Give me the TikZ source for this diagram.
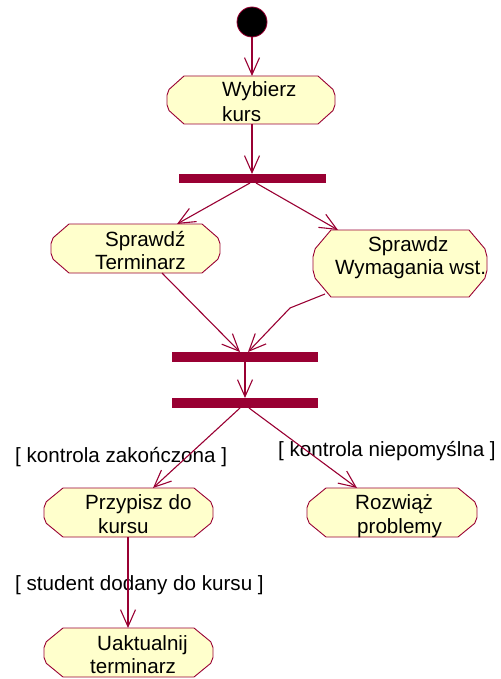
\documentclass[tikz,border=0pt]{standalone}
\usepackage{fontspec}
\setmainfont{Liberation Sans}
\usetikzlibrary{arrows.meta,calc,backgrounds}
\definecolor{umlred}{HTML}{990033}
\definecolor{umlfill}{HTML}{FFFFCC}
\newcommand\actframe[2]{%
  \filldraw[actline]
    ($(#1.north west)+(#2,0)$) -- ($(#1.north east)+(-#2,0)$)
    -- ($(#1.north east)!0.28!(#1.south east)+(-0.12*#2,0)$)
    -- ($(#1.north east)!0.4!(#1.south east)$)
    -- ($(#1.north east)!0.6!(#1.south east)$)
    -- ($(#1.north east)!0.72!(#1.south east)+(-0.12*#2,0)$)
    -- ($(#1.south east)+(-#2,0)$) -- ($(#1.south west)+(#2,0)$)
    -- ($(#1.north west)!0.72!(#1.south west)+(0.12*#2,0)$)
    -- ($(#1.north west)!0.6!(#1.south west)$)
    -- ($(#1.north west)!0.4!(#1.south west)$)
    -- ($(#1.north west)!0.28!(#1.south west)+(0.12*#2,0)$)
    -- cycle;}
\begin{document}
\begin{tikzpicture}[x=1pt,y=-1pt,
  actline/.style={draw=umlred,fill=umlfill,line width=0.9pt},
  box/.style={inner sep=0pt,outer sep=0pt},
  bar/.style={fill=umlred,inner sep=0pt,outer sep=0pt},
  txt/.style={inner sep=0pt,anchor=base west,font=\fontsize{20.6}{24}\selectfont},
  flow/.style={draw=umlred,line width=1.1pt,-{Straight Barb[length=17pt,width=15pt,line width=1.1pt]}},
  plain/.style={draw=umlred,line width=1.1pt}]
\useasboundingbox (0,0) rectangle (500,679);
% initial state
\node[circle,fill=black,draw=umlred,line width=0.8pt,minimum size=30pt,inner sep=0pt] (init) at (252,22) {};
% activity boxes (invisible frames, outlines drawn on background layer)
\node[box,minimum width=168pt,minimum height=48pt] (wyb) at (251,100) {};
\node[box,minimum width=169pt,minimum height=49pt] (spt) at (135.5,248.5) {};
\node[box,minimum width=174pt,minimum height=67pt] (swy) at (400,263.5) {};
\node[box,minimum width=169pt,minimum height=49pt] (prz) at (128.5,512.5) {};
\node[box,minimum width=170pt,minimum height=49pt] (roz) at (392,512.5) {};
\node[box,minimum width=169pt,minimum height=49pt] (uak) at (128.5,652.5) {};
\begin{pgfonlayer}{background}
\actframe{wyb}{17}
\actframe{spt}{18}
\actframe{swy}{18}
\actframe{prz}{19}
\actframe{roz}{19}
\actframe{uak}{19}
\end{pgfonlayer}
% texts
\node[txt] (wyb1) at (222,97) {Wybierz};
\node[txt] (wyb2) at (222,122) {kurs};
\node[txt] (spt1) at (105,246) {Sprawdź};
\node[txt] (spt2) at (95,269) {Terminarz};
\node[txt] (swy1) at (368,251) {Sprawdz};
\node[txt] (swy2) at (335,274) {Wymagania wst.};
\node[txt] (prz1) at (85,509) {Przypisz do};
\node[txt] (prz2) at (98,533) {kursu};
\node[txt] (roz1) at (355,509) {Rozwiąż};
\node[txt] (roz2) at (357,533) {problemy};
\node[txt] (uak1) at (97,650) {Uaktualnij};
\node[txt] (uak2) at (90,673) {terminarz};
% guard labels
\node[txt] (g1) at (15,462.5) {[ kontrola zakończona ]};
\node[txt] (g2) at (278,456) {[ kontrola niepomyślna ]};
\node[txt] (g3) at (15,590.5) {[ student dodany do kursu ]};
% synchronisation bars
\node[bar,minimum width=147pt,minimum height=9pt] (bar1) at (252.5,178.5) {};
\node[bar,minimum width=146pt,minimum height=10pt] (bar2) at (245,357) {};
\node[bar,minimum width=146pt,minimum height=10pt] (bar3) at (245,403) {};
\coordinate (bend) at (290,308);
% connectors
\draw[flow] (init.south) -- (init.south |- wyb.north);
\draw[flow] ($(wyb.south)+(1,0)$) -- ($(bar1.north)+(-0.5,0)$);
\draw[flow] ($(bar1.south)+(-2.5,0)$) -- ($(spt.north)+(41.5,0)$);
\draw[flow] ($(bar1.south)+(3.5,0)$) -- ($(swy.north)+(-62,0)$);
\draw[flow] ($(spt.south)+(26.5,0)$) -- ($(bar2.north)+(-5,0)$);
\draw[plain] ($(swy.south west)+(12,-3)$) -- (bend);
\draw[flow] (bend) -- ($(bar2.north)+(3,0)$);
\draw[flow] (bar2.south) -- (bar3.north);
\draw[flow] ($(bar3.south)+(-5,0)$) -- ($(prz.north)+(24.5,0)$);
\draw[flow] ($(bar3.south)+(4,0)$) -- ($(roz.north)+(-35,0)$);
\draw[flow] ($(prz.south)+(-0.5,0)$) -- ($(uak.north)+(-0.5,0)$);
\end{tikzpicture}
\end{document}
